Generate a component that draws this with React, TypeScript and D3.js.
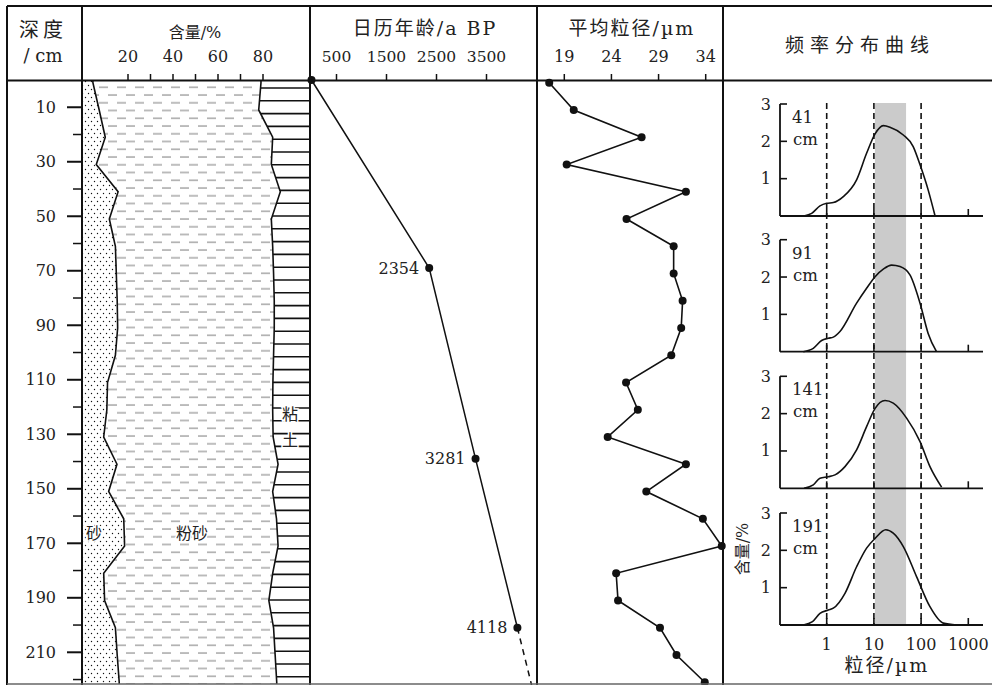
import React from 'react'
import * as d3 from 'd3'

const W = 992
const H = 685

// 采样深度 / cm
const sampleDepth = [1, 11, 21, 31, 41, 51, 61, 71, 81, 91, 101, 111, 121, 131, 141, 151, 161, 171, 181, 191, 201, 211, 221]
// 砂、粉砂含量 / %  (粘土 = 100 - 砂 - 粉砂)
const sandPct = [4.4, 7.2, 9.9, 5.9, 15.6, 11.7, 14.4, 14.8, 15.2, 15.4, 14.4, 10.9, 10.6, 9.2, 15.1, 11.4, 18.1, 18.5, 9.2, 9.6, 14.4, 15.2, 16.1]
const siltPct = [74.7, 70.9, 74.4, 77.8, 72.1, 72.0, 69.9, 69.9, 69.8, 69.6, 70.3, 73.5, 73.7, 75.3, 71.6, 72.9, 67.9, 68.2, 75.1, 73.0, 70.3, 70.2, 70.0]
// 平均粒径 / µm
const meanGrain = [17.4, 20.0, 27.2, 19.25, 31.9, 25.6, 30.6, 30.6, 31.55, 31.4, 30.35, 25.55, 26.8, 23.6, 31.9, 27.7, 33.7, 35.7, 24.5, 24.7, 29.15, 30.9, 33.9]

// 日历年龄
const ageDepth = [0, 69, 139, 201]
const ageBP = [0, 2354, 3281, 4118]

// 坐标轴刻度
const depthMajor = [10, 30, 50, 70, 90, 110, 130, 150, 170, 190, 210]
const depthMinor = [20, 40, 60, 80, 100, 120, 140, 160, 180, 200, 220]
const pctTicks = [20, 30, 40, 50, 60, 70, 80]
const pctLabels = [20, 40, 60, 80]
const ageTicks = [500, 1500, 2500, 3500]
const grainTicks = [19, 24, 29, 34]
const freqTicks = [1, 10, 100, 1000]
const freqYTicks = [1, 2, 3]

// 频率分布曲线
const freqDepth = [41, 91, 141, 191]
const size41 = [0.33, 0.48, 0.72, 1.0, 1.38, 2.25, 4.3, 7.0, 10.6, 15.8, 21.9, 42, 68, 95, 141, 196]
const pct41 = [0, 0.07, 0.27, 0.34, 0.36, 0.52, 0.97, 1.68, 2.2, 2.42, 2.38, 2.17, 1.86, 1.37, 0.7, 0.02]
const size91 = [0.32, 0.52, 0.78, 1.08, 1.38, 1.91, 4.3, 7.0, 10.6, 15.8, 23.7, 35.8, 58, 95, 141, 212]
const pct91 = [0, 0.09, 0.3, 0.36, 0.39, 0.54, 1.3, 1.7, 2.01, 2.21, 2.32, 2.28, 2.06, 1.3, 0.49, 0]
const size141 = [0.33, 0.52, 0.72, 1.08, 1.5, 2.44, 4.3, 7.0, 10.6, 17.2, 25.7, 49.3, 95, 154, 272]
const pct141 = [0, 0.09, 0.27, 0.31, 0.36, 0.58, 1.03, 1.65, 2.14, 2.35, 2.28, 1.88, 1.25, 0.58, 0.03]
const size191 = [0.32, 0.5, 0.72, 1.08, 1.38, 2.44, 4.3, 7.0, 10.6, 17.8, 25.7, 42, 80.5, 154, 295, 565]
const pct191 = [0, 0.09, 0.31, 0.4, 0.45, 0.85, 1.56, 2.06, 2.32, 2.55, 2.46, 2.1, 1.29, 0.49, 0.05, 0]
const freqSizes = [size41, size91, size141, size191]
const freqPcts = [pct41, pct91, pct141, pct191]
const sizeBands = [1, 10, 100]
const siltBand = [10, 48]

const serif = '"DejaVu Serif", "Liberation Serif", "Noto Sans CJK SC", serif'

export default function App() {
  const y = d3.scaleLinear().domain([0, 222]).range([80, 685])
  const xPct = d3.scaleLinear().domain([0, 100]).range([83, 308])
  const xAge = d3.scaleLinear().domain([0, 4400]).range([311.5, 531.5])
  const xGrain = d3.scaleLinear().domain([19, 34]).range([564.3, 705.7])
  const xFreq = d3.scaleLog().domain([1, 1000]).range([826.7, 968.3])

  // 岩性柱
  const rows = sampleDepth.map((d, i) => ({ d, sand: sandPct[i], top: sandPct[i] + siltPct[i] }))
  const ext = [{ ...rows[0], d: 0 }, ...rows, { ...rows[rows.length - 1], d: 222 }]
  const sandArea = d3.area<any>().y(r => y(r.d)).x0(82).x1(r => xPct(r.sand))
  const siltArea = d3.area<any>().y(r => y(r.d)).x0(r => xPct(r.sand)).x1(r => xPct(r.top))
  const clayArea = d3.area<any>().y(r => y(r.d)).x0(r => xPct(r.top)).x1(310)
  const sandLine = d3.line<any>().x(r => xPct(r.sand)).y(r => y(r.d))
  const topLine = d3.line<any>().x(r => xPct(r.top)).y(r => y(r.d))
  const clayLines = d3.range(88, 685, 12.8)

  // 年龄
  const agePts = ageDepth.map((d, i) => [xAge(ageBP[i]), y(d)] as [number, number])
  const n = ageBP.length
  const rate = (ageBP[n - 1] - ageBP[n - 2]) / (ageDepth[n - 1] - ageDepth[n - 2])
  const ageEnd = ageBP[n - 1] + rate * (222 - ageDepth[n - 1])

  // 平均粒径
  const grainPts = sampleDepth.map((d, i) => [xGrain(meanGrain[i]), y(d)] as [number, number])

  const freqBase = [216, 351.7, 488.3, 625]

  return (
    <svg width={W} height={H} style={{ position: 'absolute', left: 0, top: 0, background: '#fff' }} fontFamily={serif}>
      <defs>
        <pattern id="sandDots" width="6" height="8" patternUnits="userSpaceOnUse">
          <circle cx="1.5" cy="1.5" r="0.7" fill="#111" />
          <circle cx="4.5" cy="5.5" r="0.7" fill="#111" />
        </pattern>
        <pattern id="siltDash" width="18" height="15.5" patternUnits="userSpaceOnUse">
          <line x1="0" x2="9" y1="2" y2="2" stroke="#999" strokeWidth="1.3" />
          <line x1="9" x2="18" y1="9.8" y2="9.8" stroke="#999" strokeWidth="1.3" />
        </pattern>
        <clipPath id="clayClip">
          <path d={clayArea(ext) || ''} />
        </clipPath>
        <clipPath id="plotClip">
          <rect x={0} y={81} width={W} height={603} />
        </clipPath>
      </defs>

      {/* 岩性 */}
      <g clipPath="url(#plotClip)">
        <path d={sandArea(ext) || ''} fill="url(#sandDots)" />
        <path d={siltArea(ext) || ''} fill="url(#siltDash)" />
        <g clipPath="url(#clayClip)">
          {clayLines.map((v, i) => (
            <line key={i} x1={82} x2={310} y1={v} y2={v} stroke="#111" strokeWidth={1.6} />
          ))}
        </g>
        <path d={sandLine(ext) || ''} fill="none" stroke="#111" strokeWidth={1.6} />
        <path d={topLine(ext) || ''} fill="none" stroke="#111" strokeWidth={1.6} />
      </g>
      <g fontSize={16} fill="#222" stroke="#fff" strokeWidth={3} paintOrder="stroke">
        <text x={94} y={539} textAnchor="middle">砂</text>
        <text x={192} y={539} textAnchor="middle">粉砂</text>
        <text x={290} y={420} textAnchor="middle">粘</text>
        <text x={290} y={446} textAnchor="middle">土</text>
      </g>

      {/* 深度轴 */}
      {depthMajor.map(d => (
        <g key={d}>
          <line x1={67} x2={82} y1={y(d)} y2={y(d)} stroke="#111" strokeWidth={2} />
          <text x={56} y={y(d) + 5.5} textAnchor="end" fontSize={16} fill="#222">{d}</text>
        </g>
      ))}
      {depthMinor.map(d => (
        <line key={d} x1={73} x2={82} y1={y(d)} y2={y(d)} stroke="#111" strokeWidth={1.5} />
      ))}

      {/* 含量刻度 */}
      {pctTicks.map(v => (
        <line key={v} x1={xPct(v)} x2={xPct(v)} y1={74} y2={80} stroke="#111" strokeWidth={1.5} />
      ))}
      {pctLabels.map(v => (
        <text key={v} x={xPct(v)} y={62} textAnchor="middle" fontSize={16} fill="#222">{v}</text>
      ))}

      {/* 年龄 */}
      {ageTicks.map(v => (
        <g key={v}>
          <line x1={xAge(v)} x2={xAge(v)} y1={74} y2={80} stroke="#111" strokeWidth={1.5} />
          <text x={xAge(v)} y={62} textAnchor="middle" fontSize={15.5} fill="#222">{v}</text>
        </g>
      ))}
      <path d={d3.line()(agePts) || ''} fill="none" stroke="#111" strokeWidth={1.5} />
      <line x1={agePts[n - 1][0]} y1={agePts[n - 1][1]} x2={xAge(ageEnd)} y2={y(222)}
        stroke="#111" strokeWidth={1.5} strokeDasharray="6,5" />
      {agePts.map((p, i) => (
        <g key={i}>
          <circle cx={p[0]} cy={p[1]} r={4} fill="#111" />
          {i > 0 && (
            <text x={p[0] - 10} y={p[1] + 5.5} textAnchor="end" fontSize={16} fill="#222">{ageBP[i]}</text>
          )}
        </g>
      ))}

      {/* 平均粒径 */}
      {grainTicks.map(v => (
        <g key={v}>
          <line x1={xGrain(v)} x2={xGrain(v)} y1={74} y2={80} stroke="#111" strokeWidth={1.5} />
          <text x={xGrain(v)} y={62} textAnchor="middle" fontSize={16} fill="#222">{v}</text>
        </g>
      ))}
      <path d={d3.line()(grainPts) || ''} fill="none" stroke="#111" strokeWidth={1.6} />
      {grainPts.map((p, i) => (
        <circle key={i} cx={p[0]} cy={p[1]} r={4} fill="#111" />
      ))}

      {/* 频率分布曲线 */}
      <rect x={xFreq(siltBand[0]) + 1} y={103} width={xFreq(siltBand[1]) - xFreq(siltBand[0]) - 1} height={522} fill="#cbcbcb" />
      {sizeBands.map(v => (
        <line key={v} x1={xFreq(v)} x2={xFreq(v)} y1={103} y2={625} stroke="#111" strokeWidth={1.6} strokeDasharray="6,4" />
      ))}
      {freqBase.map((b, k) => {
        const yF = d3.scaleLinear().domain([0, 3]).range([b, b - 112])
        const pts = freqSizes[k].map((s, i) => [s, freqPcts[k][i]] as [number, number])
        const curve = d3.line<[number, number]>().x(p => xFreq(p[0])).y(p => yF(p[1])).curve(d3.curveMonotoneX)
        return (
          <g key={k}>
            <line x1={780} x2={983} y1={b} y2={b} stroke="#111" strokeWidth={1.8} />
            <line x1={780} x2={780} y1={b} y2={yF(3)} stroke="#111" strokeWidth={1.8} />
            {freqTicks.map(t => (
              <line key={t} x1={xFreq(t)} x2={xFreq(t)} y1={b} y2={b - 7} stroke="#111" strokeWidth={1.6} />
            ))}
            {freqYTicks.map(t => (
              <g key={t}>
                <line x1={780} x2={787} y1={yF(t)} y2={yF(t)} stroke="#111" strokeWidth={1.6} />
                <text x={771} y={yF(t) + 5.5} textAnchor="end" fontSize={16} fill="#222">{t}</text>
              </g>
            ))}
            <path d={curve(pts) || ''} fill="none" stroke="#111" strokeWidth={1.6} />
            <text x={792} y={b - 93} fontSize={16.5} fill="#222">{freqDepth[k]}</text>
            <text x={793} y={b - 71} fontSize={16.5} fill="#222">cm</text>
          </g>
        )
      })}
      {freqTicks.map(t => (
        <text key={t} x={xFreq(t)} y={650} textAnchor="middle" fontSize={16} fill="#222">{t}</text>
      ))}
      <text x={887} y={672} textAnchor="middle" fontSize={19} fill="#222" letterSpacing={2}>粒径/µm</text>
      <text transform="translate(748,549) rotate(-90)" textAnchor="middle" fontSize={16} fill="#222">含量/%</text>

      {/* 表头 */}
      <text x={43} y={37} textAnchor="middle" fontSize={20} fill="#222" letterSpacing={4}>深度</text>
      <text x={43} y={62} textAnchor="middle" fontSize={18} fill="#222">/ cm</text>
      <text x={195} y={38} textAnchor="middle" fontSize={16} fill="#222">含量/%</text>
      <text x={425} y={35} textAnchor="middle" fontSize={19} fill="#222" letterSpacing={2}>日历年龄/a BP</text>
      <text x={632} y={35} textAnchor="middle" fontSize={19} fill="#222" letterSpacing={2}>平均粒径/µm</text>
      <text x={860} y={52} textAnchor="middle" fontSize={19} fill="#222" letterSpacing={6}>频率分布曲线</text>

      {/* 边框 */}
      <g stroke="#111" strokeWidth={2}>
        <line x1={7} x2={W} y1={6} y2={6} />
        <line x1={7} x2={W} y1={80.5} y2={80.5} />
        <line x1={7} x2={7} y1={6} y2={685} />
        {[82, 310, 537, 723].map(v => (
          <line key={v} x1={v} x2={v} y1={6} y2={685} />
        ))}
      </g>
      <line x1={7} x2={W} y1={684} y2={684} stroke="#666" strokeWidth={1.5} />
    </svg>
  )
}
